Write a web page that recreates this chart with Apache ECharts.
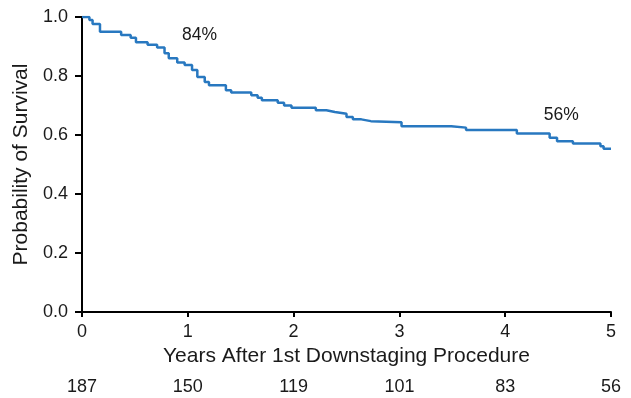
<!DOCTYPE html>
<html>
<head>
<meta charset="utf-8">
<script src="https://cdn.jsdelivr.net/npm/echarts@6/dist/echarts.min.js"></script>
<style>
html, body { margin: 0; padding: 0; background: #fff; }
#chart { width: 631px; height: 398px; }
</style>
</head>
<body>
<div id="chart"></div>
<script>
// Kaplan-Meier steps: time (years) where survival drops, and survival after the drop
var years = [0, 0.07, 0.10, 0.17, 0.37, 0.46, 0.51, 0.62, 0.71, 0.78, 0.82, 0.90, 0.97,
             1.04, 1.09, 1.16, 1.20, 1.36, 1.41, 1.60, 1.66, 1.70, 1.85, 1.91, 1.98,
             2.21, 2.31, 2.39, 2.50, 2.56, 2.64, 2.73, 3.02, 3.49, 3.63, 4.11, 4.42,
             4.49, 4.64, 4.90, 4.93, 5.0];
var survival = [1.0, 0.99, 0.976, 0.95, 0.939, 0.93, 0.914, 0.906, 0.897, 0.877, 0.86, 0.846, 0.837,
                0.82, 0.797, 0.78, 0.769, 0.752, 0.744, 0.735, 0.726, 0.718, 0.709, 0.70, 0.692,
                0.684, 0.678, 0.672, 0.661, 0.653, 0.647, 0.643, 0.63, 0.625, 0.617, 0.605, 0.591,
                0.579, 0.571, 0.562, 0.553, 0.553];

var yearTicks = [0, 1, 2, 3, 4, 5];
var atRisk = [187, 150, 119, 101, 83, 56];

var notes = [
  { text: '84%', t: 1.11, s: 0.94 },
  { text: '56%', t: 4.53, s: 0.667 }
];

var fontFamily = '"Liberation Sans", Arial, Helvetica, sans-serif';
var ink = '#1a1a1a';

var curve = years.map(function (t, i) { return [t, survival[i]]; });

var option = {
  animation: false,
  textStyle: { fontFamily: fontFamily },
  grid: { left: 82, right: 20, top: 17, bottom: 86, containLabel: false, outerBoundsMode: 'none' },
  xAxis: [
    {
      type: 'value', min: 0, max: 5, interval: 1,
      name: 'Years After 1st Downstaging Procedure',
      nameLocation: 'middle', nameGap: 33,
      nameTextStyle: { color: ink, fontSize: 21, fontFamily: fontFamily },
      axisLine: { lineStyle: { color: '#000', width: 2 } },
      axisTick: { show: true, length: 5, lineStyle: { color: '#000', width: 2 } },
      axisLabel: { color: ink, fontSize: 18, margin: 11 },
      splitLine: { show: false }
    },
    {
      // number at risk row, sharing the years scale
      type: 'value', min: 0, max: 5, interval: 1, position: 'bottom', offset: 58,
      axisLine: { show: false }, axisTick: { show: false }, splitLine: { show: false },
      axisLabel: {
        color: ink, fontSize: 18,
        formatter: function (v) { return atRisk[yearTicks.indexOf(Math.round(v))]; }
      }
    }
  ],
  yAxis: {
    type: 'value', min: 0, max: 1, interval: 0.2,
    name: 'Probability of Survival',
    nameLocation: 'middle', nameGap: 47,
    nameTextStyle: { color: ink, fontSize: 21, fontFamily: fontFamily },
    axisLine: { show: true, lineStyle: { color: '#000', width: 2 } },
    axisTick: { show: true, length: 7, lineStyle: { color: '#000', width: 2 } },
    axisLabel: { color: ink, fontSize: 18, margin: 14, formatter: function (v) { return v.toFixed(1); } },
    splitLine: { show: false }
  },
  series: [
    {
      type: 'line',
      step: 'end',
      data: curve,
      symbol: 'none',
      lineStyle: { color: '#2878c0', width: 2.5 },
      markPoint: {
        symbol: 'circle', symbolSize: 0, silent: true,
        label: { show: true, position: 'inside', color: ink, fontSize: 17.5, fontFamily: fontFamily,
                 formatter: function (p) { return p.name; } },
        data: notes.map(function (n) { return { name: n.text, coord: [n.t, n.s] }; })
      }
    }
  ]
};

var myChart = echarts.init(document.getElementById('chart'));
myChart.setOption(option, true);
</script>
</body>
</html>
